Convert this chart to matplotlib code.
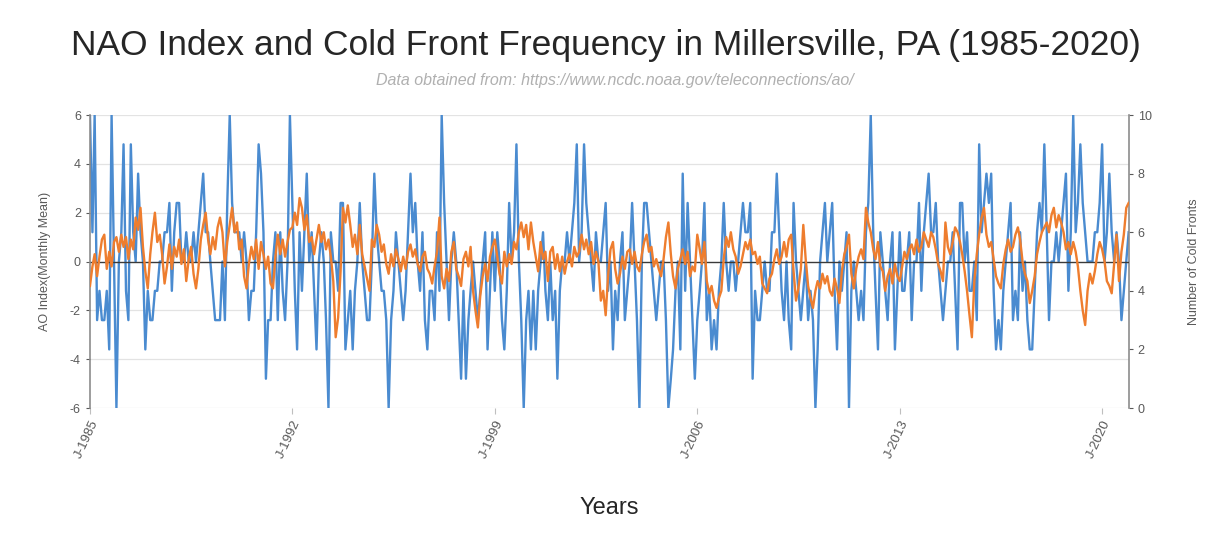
import numpy as np
import pandas as pd
import matplotlib
matplotlib.use("Agg")
import matplotlib.pyplot as plt

plt.rcParams["font.family"] = ["Liberation Sans", "DejaVu Sans"]
plt.rcParams["axes.unicode_minus"] = False

# Monthly number of cold fronts (Jan 1985 - Dec 2020), one row per year
cold_fronts = [
    10, 6, 10, 3, 4, 3, 3, 4, 2, 10, 5, 0,      # 1985
    5, 6, 9, 4, 3, 9, 6, 5, 8, 6, 5, 2,         # 1986
    4, 3, 3, 4, 4, 5, 5, 6, 6, 7, 4, 6,         # 1987
    7, 7, 5, 5, 6, 5, 5, 6, 5, 6, 7, 8,         # 1988
    6, 6, 5, 4, 3, 3, 3, 5, 3, 7, 10, 7,        # 1989
    6, 6, 6, 5, 6, 5, 3, 4, 4, 6, 9, 8,         # 1990
    6, 1, 3, 3, 5, 6, 3, 6, 4, 3, 5, 10,        # 1991
    7, 4, 2, 6, 4, 6, 8, 5, 6, 4, 2, 5,         # 1992
    6, 5, 3, 0, 6, 5, 5, 4, 7, 7, 2, 3,         # 1993
    4, 2, 4, 5, 7, 5, 4, 3, 3, 5, 8, 6,         # 1994
    5, 4, 4, 3, 0, 3, 4, 6, 5, 4, 3, 4,         # 1995
    6, 8, 6, 7, 5, 4, 6, 3, 2, 4, 4, 3,         # 1996
    6, 4, 10, 7, 5, 3, 5, 6, 5, 3, 1, 4,        # 1997
    1, 3, 4, 5, 4, 3, 4, 5, 6, 2, 4, 6,         # 1998
    4, 6, 5, 3, 2, 4, 7, 5, 6, 9, 5, 3,         # 1999
    0, 3, 4, 2, 4, 2, 4, 5, 6, 4, 3, 5,         # 2000
    3, 4, 1, 4, 5, 5, 6, 5, 6, 7, 9, 5,         # 2001
    6, 9, 7, 6, 5, 4, 6, 5, 5, 6, 7, 4,         # 2002
    5, 2, 4, 3, 5, 6, 3, 4, 5, 7, 5, 3,         # 2003
    0, 5, 7, 7, 6, 5, 4, 3, 4, 5, 5, 3,         # 2004
    0, 1, 2, 4, 5, 2, 8, 4, 7, 5, 3, 1,         # 2005
    3, 4, 5, 7, 3, 4, 2, 3, 2, 4, 5, 7,         # 2006
    5, 4, 5, 5, 4, 5, 6, 7, 6, 6, 7, 1,         # 2007
    4, 3, 3, 4, 5, 4, 4, 6, 6, 8, 6, 4,         # 2008
    3, 5, 3, 2, 7, 5, 4, 3, 4, 5, 3, 4,         # 2009
    3, 0, 2, 5, 6, 7, 5, 6, 7, 4, 2, 5,         # 2010
    4, 5, 6, 0, 4, 5, 4, 3, 4, 3, 6, 7,         # 2011
    10, 6, 4, 2, 6, 5, 4, 3, 5, 6, 2, 4,        # 2012
    6, 4, 4, 5, 6, 3, 5, 5, 7, 4, 6, 7,         # 2013
    8, 6, 6, 7, 5, 4, 3, 4, 5, 5, 6, 4,         # 2014
    2, 7, 7, 5, 6, 4, 4, 5, 3, 9, 6, 7,         # 2015
    8, 7, 8, 4, 2, 3, 2, 4, 5, 6, 7, 3,         # 2016
    4, 3, 6, 4, 5, 3, 2, 2, 4, 6, 7, 6,         # 2017
    9, 6, 3, 5, 5, 6, 5, 6, 7, 8, 4, 6,         # 2018
    10, 6, 7, 9, 7, 6, 5, 5, 5, 6, 6, 7,        # 2019
    9, 5, 6, 8, 6, 5, 6, 5, 3, 4, 5, 6,         # 2020
]

# Monthly mean index (Jan 1985 - Dec 2020), one row per year
nao_index = [
    -1.0, -0.2, 0.3, -0.6, 0.2, 0.9, 1.1, -0.3, 0.4, -0.2, 0.8, 1.0,      # 1985
    0.4, 1.1, 0.6, 1.0, 0.1, 0.9, 0.5, 1.8, 1.3, 2.2, 0.6, -0.4,          # 1986
    -1.1, 0.3, 1.2, 2.0, 0.8, 1.1, 0.3, -0.9, -0.2, 0.7, -0.3, 0.6,       # 1987
    0.2, 0.9, -0.1, 0.5, -0.8, 0.1, 0.6, -0.5, -1.1, -0.3, 0.9, 1.5,      # 1988
    2.0, 0.9, 0.3, 1.0, 0.5, 1.4, 1.8, 1.2, -0.2, 0.8, 1.5, 2.2,          # 1989
    1.2, 1.6, 0.5, 0.9, -0.6, -1.1, -0.1, 0.6, 0.1, 0.9, -0.3, 0.8,       # 1990
    0.3, -0.3, 0.2, -0.9, -1.1, 0.2, 1.1, 0.3, 0.9, 0.2, 0.8, 1.3,        # 1991
    1.4, 2.0, 1.5, 2.6, 2.2, 1.3, 1.9, 0.8, 1.0, 0.3, 0.9, 1.5,           # 1992
    0.8, 1.2, 0.5, 0.9, 0.2, -0.8, -3.1, -2.3, -0.4, 2.2, 1.6, 2.3,       # 1993
    1.5, 0.6, 1.1, 0.3, 1.5, 0.3, -0.2, -0.7, -1.2, 0.9, 0.6, 1.5,        # 1994
    1.1, 0.4, 0.7, -0.1, -0.5, 0.3, -0.2, 0.5, 0.1, -0.4, 0.2, -0.3,      # 1995
    0.4, 0.7, 0.2, 0.5, -0.1, -0.4, 0.2, 0.4, -0.3, -0.5, -0.9, -0.2,     # 1996
    0.4, 1.8, -0.6, -1.1, -0.3, -0.8, 0.4, 0.8, -0.3, -0.6, -1.0, 0.1,    # 1997
    0.4, -0.2, 0.6, -1.2, -2.0, -2.7, -1.4, -0.6, -0.1, -0.8, 0.2, 0.6,   # 1998
    0.9, 0.2, -0.5, -0.9, 0.4, -0.2, 0.3, -0.1, 0.8, 0.5, 1.2, 1.6,       # 1999
    1.0, 1.5, 0.5, 1.6, 0.8, 0.2, -0.4, 0.8, 0.1, 0.4, -0.8, 0.4,         # 2000
    0.6, -0.3, 0.3, -0.4, 0.2, -0.5, 0.0, 0.3, -0.2, 0.6, 0.2, 0.4,       # 2001
    1.1, 0.5, 0.9, 0.3, 0.8, -0.1, 0.4, 0.0, -1.6, -1.2, -2.2, -0.6,      # 2002
    0.5, 0.8, -0.3, -0.9, -0.5, 0.2, -0.3, 0.4, 0.5, -0.1, 0.4, -0.2,     # 2003
    -0.4, 0.3, 0.8, 1.1, 0.4, 0.6, -0.2, 0.1, -0.3, -0.6, 0.1, 1.0,       # 2004
    1.6, 0.3, -0.6, -1.1, -0.3, 0.1, 0.5, -0.1, 0.4, -0.6, -0.2, -0.4,    # 2005
    1.1, 0.5, -0.1, 0.8, -0.8, -1.3, -1.0, -1.6, -1.9, -1.5, -1.2, 0.1,   # 2006
    1.0, 0.6, 1.2, 0.5, 0.2, -0.5, -0.2, 0.3, 0.8, 0.5, 0.9, 0.3,         # 2007
    0.4, -0.1, 0.2, -0.9, -1.1, -1.3, -0.7, -0.5, 0.1, 0.5, -0.1, 0.2,    # 2008
    0.8, 0.2, 0.9, 1.1, -0.4, -1.6, -1.1, -0.3, 1.5, 0.1, -1.0, -1.5,     # 2009
    -1.9, -1.2, -0.8, -1.1, -0.5, -0.9, -0.6, -1.2, -1.4, -0.7, -1.1, -1.7,  # 2010
    -0.4, 0.3, 0.6, 1.1, -0.5, -1.1, -0.3, 0.2, 0.5, 0.1, 2.2, 1.6,       # 2011
    1.2, 0.5, 0.1, 0.8, -0.2, -0.4, -1.2, -0.6, -0.3, -0.9, -0.1, -0.6,   # 2012
    -0.8, -0.2, 0.4, 0.1, 0.5, 0.7, 0.3, 0.9, 0.4, 0.6, 1.2, 0.9,         # 2013
    0.6, 1.2, 1.0, 0.5, -0.1, -0.4, -0.8, 1.6, 0.6, 0.3, 0.8, 1.4,        # 2014
    1.2, 0.8, 0.3, -0.4, -1.2, -2.2, -3.1, -0.8, 0.3, 1.1, 1.8, 2.2,      # 2015
    1.1, 0.6, 0.8, 0.1, -0.6, -0.9, -1.1, -0.1, 0.5, 0.9, 0.4, 0.6,       # 2016
    1.1, 1.4, 0.9, 0.0, -0.5, -0.8, -1.7, -1.2, -0.6, 0.3, 0.8, 1.2,      # 2017
    1.4, 1.6, 1.2, 1.9, 2.2, 1.4, 1.9, 1.6, 1.2, 0.5, 0.8, 0.3,           # 2018
    0.8, 0.4, -0.2, -1.2, -2.0, -2.6, -1.2, -0.5, -0.9, -0.4, 0.3, 0.8,   # 2019
    0.5, 0.0, -0.8, -1.0, -1.3, -0.1, 1.1, -0.8, 0.4, 1.1, 2.2, 2.4,      # 2020
]

tick_years = [1985, 1992, 1999, 2006, 2013, 2020]
tick_labels = [f"J-{y}" for y in tick_years]

months = pd.date_range("1985-01-01", periods=len(cold_fronts), freq="MS")

blue = "#4a8bd0"
orange = "#ee7d2e"
grey_text = "#595959"

fig = plt.figure(figsize=(12.11, 5.46), dpi=100)
ax = fig.add_axes([0.0743, 0.2527, 0.8577, 0.5366])
ax2 = ax.twinx()

# cold fronts on the secondary (right) axis, index on the primary axis drawn on top
ax2.plot(months, cold_fronts, color=blue, lw=1.7)
ax.plot(months, nao_index, color=orange, lw=1.7, zorder=3)
ax.set_zorder(ax2.get_zorder() + 1)
ax.patch.set_visible(False)

ax.set_ylim(-6, 6)
ax.set_yticks(np.arange(-6, 7, 2))
ax2.set_ylim(0, 10)
ax2.set_yticks(np.arange(0, 11, 2))
ax.set_xlim(months[0], months[-1])

for y in np.arange(-6, 7, 2):
    if y != 0:
        ax2.axhline((y + 6) / 12 * 10, color="#e3e3e3", lw=0.9, zorder=0)
ax.axhline(0, color="#3a3a3a", lw=1.0, zorder=2)

ax.set_xticks([pd.Timestamp(f"{y}-01-01") for y in tick_years])
ax.set_xticklabels(tick_labels, rotation=65, ha="right", rotation_mode="anchor",
                   fontsize=9.5, color=grey_text)

for a in (ax, ax2):
    for s in ("top", "bottom"):
        a.spines[s].set_visible(False)
    a.tick_params(axis="y", labelsize=9, colors=grey_text, length=3, width=0.8)
    a.tick_params(axis="x", length=4, color="#bfbfbf")
ax.spines["left"].set_color("#8c8c8c")
ax.spines["right"].set_visible(False)
ax2.spines["left"].set_visible(False)
ax2.spines["right"].set_color("#8c8c8c")
ax2.spines["right"].set_linewidth(1.2)
ax.spines["left"].set_linewidth(1.2)

ax.set_ylabel("AO Index(Monthly Mean)", fontsize=9, color=grey_text, labelpad=14)
ax2.set_ylabel("Number of Cold Fronts", fontsize=9, color=grey_text, labelpad=26)

fig.text(0.5, 0.917, "NAO Index and Cold Front Frequency in Millersville, PA (1985-2020)",
         ha="center", va="center", fontsize=25.5, color="#262626")
fig.text(0.508, 0.853, "Data obtained from: https://www.ncdc.noaa.gov/teleconnections/ao/",
         ha="center", va="center", fontsize=11.5, style="italic", color="#b0b0b0")
fig.text(0.503, 0.07, "Years", ha="center", va="center", fontsize=17, color="#262626")

fig.savefig("out.png", dpi=100, facecolor="white")
